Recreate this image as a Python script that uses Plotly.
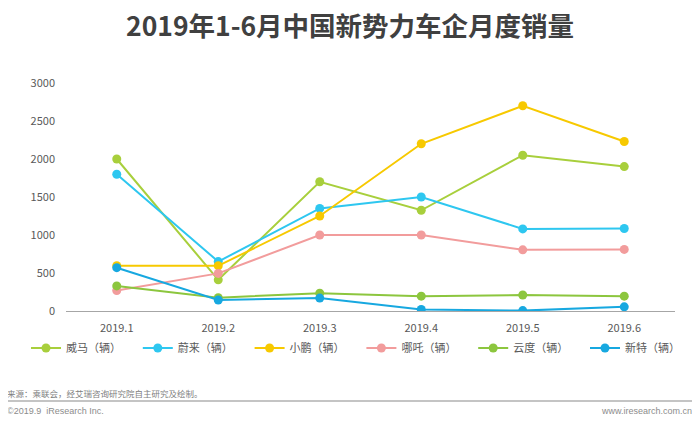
import plotly.graph_objects as go

months = ["2019.1", "2019.2", "2019.3", "2019.4", "2019.5", "2019.6"]
weima = [2000, 410, 1700, 1325, 2050, 1900]
nio = [1800, 650, 1350, 1500, 1080, 1085]
xpeng = [595, 595, 1250, 2200, 2700, 2230]
nezha = [270, 495, 1000, 1000, 805, 810]
yundu = [330, 175, 235, 195, 210, 195]
xinte = [570, 145, 170, 20, 5, 55]

series = [
    ("威马（辆）", weima, "#a8cf3c"),
    ("蔚来（辆）", nio, "#2ec7f0"),
    ("小鹏（辆）", xpeng, "#f7c900"),
    ("哪吒（辆）", nezha, "#f29c9c"),
    ("云度（辆）", yundu, "#8cc63e"),
    ("新特（辆）", xinte, "#17a8e0"),
]
y_ticks = [0, 500, 1000, 1500, 2000, 2500, 3000]

FONT = "Microsoft YaHei, Noto Sans CJK SC, Noto Sans, sans-serif"

fig = go.Figure()
for name, vals, color in series:
    fig.add_trace(go.Scatter(
        x=months, y=vals, name=name, mode="lines+markers",
        line=dict(color=color, width=2),
        marker=dict(color=color, size=9),
    ))

# page offset (browser body margin)
OFF = 8
W, H = 700 - OFF, 425 - OFF
L = 66 - OFF
T = 83 - OFF
R = W - (675 - OFF)
B = H - (311 - OFF)
pw = W - L - R
ph = H - T - B


def px_x(px):
    """page pixel x -> paper coordinate"""
    return (px - OFF - L) / pw


def px_y(py):
    """page pixel y -> paper coordinate"""
    return (H - B - (py - OFF)) / ph


fig.update_layout(
    width=W, height=H,
    margin=dict(l=L, r=R, t=T, b=B, autoexpand=False),
    paper_bgcolor="white", plot_bgcolor="white",
    font=dict(family=FONT, size=11, color="#595959"),
    xaxis=dict(range=[-0.5, 5.5], showgrid=False, showline=True,
               linecolor="#a6a6a6", linewidth=1.2,
               ticks="", tickfont=dict(size=11, color="#595959"),
               ticklabelstandoff=7, zeroline=False, automargin=False),
    yaxis=dict(range=[0, 3000], tickvals=y_ticks, showgrid=False, showline=False,
               zeroline=False, ticks="", tickfont=dict(size=11, color="#595959"),
               ticklabelstandoff=10, automargin=False),
    showlegend=True,
    legend=dict(orientation="h", xref="paper", yref="paper",
                x=px_x(26), xanchor="left", y=px_y(348), yanchor="middle",
                entrywidth=66.8, entrywidthmode="pixels",
                font=dict(size=11, color="#595959", family=FONT),
                bgcolor="rgba(0,0,0,0)", itemclick=False),
)

fig.add_annotation(text="<b>2019年1-6月中国新势力车企月度销量</b>",
                   xref="paper", yref="paper", x=px_x(350), y=px_y(24.5),
                   xanchor="center", yanchor="middle", showarrow=False,
                   font=dict(size=26.5, color="#404040", family=FONT))
fig.add_annotation(text="来源：乘联会，经艾瑞咨询研究院自主研究及绘制。",
                   xref="paper", yref="paper", x=px_x(5), y=px_y(392.7),
                   xanchor="left", yanchor="middle", showarrow=False,
                   font=dict(size=8.5, color="#808080", family=FONT))
fig.add_annotation(text="©2019.9  iResearch Inc.",
                   xref="paper", yref="paper", x=px_x(5), y=px_y(411),
                   xanchor="left", yanchor="middle", showarrow=False,
                   font=dict(size=9, color="#8c8c8c", family="Liberation Sans, Arial"))
fig.add_annotation(text="www.iresearch.com.cn",
                   xref="paper", yref="paper", x=px_x(694), y=px_y(411),
                   xanchor="right", yanchor="middle", showarrow=False,
                   font=dict(size=9, color="#8c8c8c", family="Liberation Sans, Arial"))
fig.add_shape(type="line", xref="paper", yref="paper",
              x0=px_x(3), x1=px_x(694), y0=px_y(401), y1=px_y(401),
              line=dict(color="#b0b0b0", width=1.5))

fig.write_html("out.html")
